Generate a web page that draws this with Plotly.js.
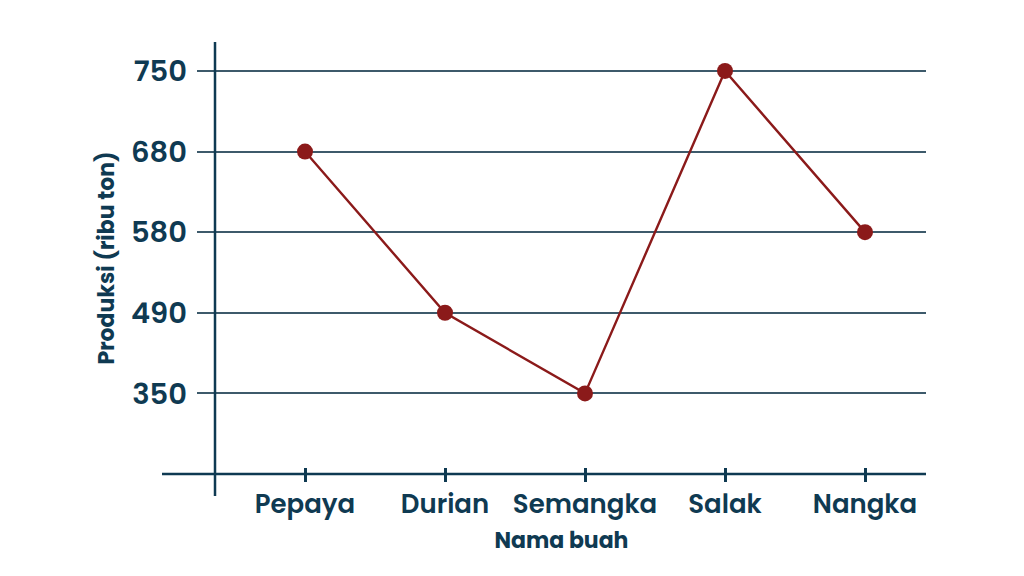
<!DOCTYPE html>
<html><head><meta charset="utf-8">
<script src="https://cdn.plot.ly/plotly-3.0.1.min.js"></script>
<style>body{margin:0;background:#fff}#c{width:1024px;height:576px}</style>
</head><body><div id="c"></div>
<script>
const fruits = ["Pepaya", "Durian", "Semangka", "Salak", "Nangka"];
const production = ["680", "490", "350", "750", "580"];
const yTickLabels = ["350", "490", "580", "680", "750"];
const xTitle = "Nama buah";
const yTitle = "Produksi (ribu ton)";

const navy = "#0f3a52";
const grid = "#3d5a6b";
const red = "#8b1a1a";
const fontFam = "Poppins, 'Open Sans', sans-serif";

const trace = {
  x: fruits, y: production, type: "scatter", mode: "lines+markers",
  line: {color: red, width: 2.4},
  marker: {color: red, size: 16},
  cliponaxis: false, hoverinfo: "skip"
};
const tickTrace = {x: fruits, y: production, xaxis: "x2", type: "scatter", mode: "none", hoverinfo: "skip", showlegend: false};

const layout = {
  width: 1024, height: 576,
  margin: {l: 197, r: 98, t: 42, b: 102},
  paper_bgcolor: "#fff", plot_bgcolor: "#fff",
  showlegend: false,
  font: {family: fontFam, color: navy},
  xaxis: {
    type: "category", categoryorder: "array", categoryarray: fruits,
    range: [-0.7714, 4.4357],
    showgrid: false, zeroline: false, showline: false,
    ticks: "outside", ticklen: 7, tickwidth: 3, tickcolor: navy,
    tickfont: {size: 26, color: navy, weight: 600, family: fontFam},
    title: {text: xTitle, font: {size: 22, weight: 700, color: navy, family: fontFam}, standoff: 11}
  },
  xaxis2: {
    type: "category", categoryorder: "array", categoryarray: fruits,
    overlaying: "x", side: "bottom", range: [-0.7714, 4.4357],
    showgrid: false, zeroline: false, showline: false, showticklabels: false,
    ticks: "inside", ticklen: 6, tickwidth: 3, tickcolor: navy
  },
  yaxis: {
    type: "category", categoryorder: "array", categoryarray: yTickLabels,
    range: [-1, 4.359],
    showgrid: true, gridcolor: grid, gridwidth: 2,
    zeroline: false, showline: false, ticks: "",
    ticklabelstandoff: 9,
    tickfont: {size: 29, color: navy, weight: 600, family: fontFam},
    title: {text: yTitle, font: {size: 22, weight: 700, color: navy, family: fontFam}, standoff: 10}
  },
  shapes: [
    {type: "line", xref: "paper", yref: "paper", x0: -0.048, x1: 1, y0: 0, y1: 0, line: {color: navy, width: 2.5}},
    {type: "line", xref: "paper", yref: "paper", x0: 0.0247, x1: 0.0247, y0: -0.051, y1: 1, line: {color: navy, width: 2.5}}
  ]
};
Plotly.newPlot("c", [tickTrace, trace], layout, {staticPlot: true, displayModeBar: false});
</script></body></html>
